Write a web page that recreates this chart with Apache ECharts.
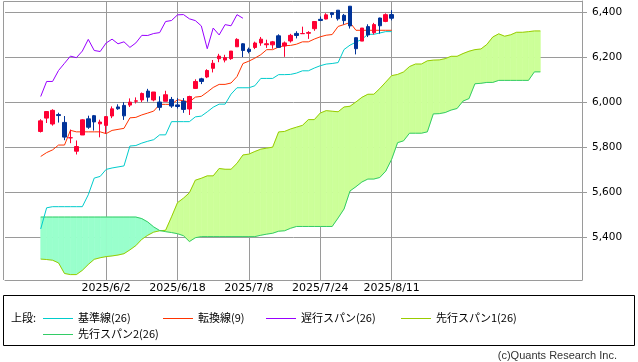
<!DOCTYPE html>
<html><head><meta charset="utf-8">
<script src="https://cdn.jsdelivr.net/npm/echarts@6/dist/echarts.min.js"></script>
<style>html,body{margin:0;padding:0;background:#fff}#c{width:638px;height:362px}</style>
</head><body><div id="c"></div>
<script>
// ---- data ----
const dates = ['2025/5/7','2025/5/8','2025/5/9','2025/5/12','2025/5/13','2025/5/14','2025/5/15','2025/5/16','2025/5/19','2025/5/20','2025/5/21','2025/5/22','2025/5/23','2025/5/27','2025/5/28','2025/5/29','2025/5/30','2025/6/2','2025/6/3','2025/6/4','2025/6/5','2025/6/6','2025/6/9','2025/6/10','2025/6/11','2025/6/12','2025/6/13','2025/6/16','2025/6/17','2025/6/18','2025/6/20','2025/6/23','2025/6/24','2025/6/25','2025/6/26','2025/6/27','2025/6/30','2025/7/1','2025/7/2','2025/7/3','2025/7/7','2025/7/8','2025/7/9','2025/7/10','2025/7/11','2025/7/14','2025/7/15','2025/7/16','2025/7/17','2025/7/18','2025/7/21','2025/7/22','2025/7/23','2025/7/24','2025/7/25','2025/7/28','2025/7/29','2025/7/30','2025/7/31','2025/8/1','2025/8/4','2025/8/5','2025/8/6','2025/8/7','2025/8/8','2025/8/11'];
const futureSlots = 32;
const xTickLabels = ['2025/6/2','2025/6/18','2025/7/8','2025/7/24','2025/8/11'];
const yTickValues = [5400, 5600, 5800, 6000, 6200, 6400];

const candleStart = 6; // candles begin at 2025/5/15
const open = [5869.8,5929.1,5902.9,5944.7,5910.0,5841.3,5781.9,5854.1,5925.9,5939.9,5903.7,5896.7,5938.6,5978.9,5985.7,5987.1,6004.6,6009.9,6049.4,6009.9,6000.6,6004.0,6012.2,5987.9,6004.0,5969.7,6061.3,6104.0,6112.2,6150.7,6193.4,6187.3,6193.7,6246.5,6259.8,6235.3,6243.4,6263.4,6255.7,6255.2,6295.3,6250.0,6272.5,6306.0,6304.7,6306.6,6326.9,6368.6,6370.0,6397.7,6409.3,6386.4,6427.0,6287.0,6271.7,6336.2,6309.3,6374.4,6359.4,6389.7];
const close = [5916.9,5958.4,5963.6,5940.5,5844.6,5842.0,5802.8,5921.5,5888.6,5912.2,5911.7,5935.9,5970.4,5970.8,5939.3,6000.4,6005.9,6038.8,6022.2,6045.3,5977.0,6033.1,5982.7,5980.9,5967.8,6025.2,6092.2,6092.2,6141.0,6173.1,6205.0,6198.0,6227.4,6279.4,6230.0,6225.5,6263.3,6280.5,6259.8,6268.6,6243.8,6263.7,6297.4,6296.8,6305.6,6309.6,6358.9,6363.4,6388.6,6389.8,6370.9,6362.9,6339.4,6238.0,6329.9,6299.2,6345.1,6340.0,6389.5,6373.5];
const low = [5865.2,5907.4,5895.7,5909.3,5830.9,5817.6,5767.4,5854.1,5881.4,5873.8,5843.7,5861.4,5929.0,5966.1,5921.2,5978.6,5994.2,6000.3,6002.3,6003.9,5963.2,6004.0,5974.8,5971.9,5952.6,5943.2,6059.5,6080.5,6107.2,6132.3,6178.0,6177.1,6188.3,6246.5,6201.0,6217.4,6236.2,6251.1,6241.5,6237.8,6241.6,6201.8,6265.2,6283.9,6303.8,6281.7,6317.5,6360.6,6368.5,6375.6,6363.1,6346.1,6327.6,6212.7,6271.7,6289.7,6301.2,6305.0,6355.9,6364.0];
const high = [5924.1,5958.6,5968.6,5953.1,5938.4,5878.1,5829.5,5924.3,5939.9,5943.1,5922.1,5937.4,5981.3,5990.5,5999.7,6016.9,6021.3,6043.0,6059.4,6045.4,6026.2,6050.8,6023.3,6018.2,6018.2,6028.8,6101.8,6108.5,6146.5,6187.7,6215.1,6210.8,6227.6,6284.6,6262.4,6242.7,6269.2,6290.2,6278.0,6272.5,6302.0,6270.0,6304.0,6315.6,6336.0,6316.1,6360.6,6381.3,6395.8,6401.1,6409.3,6392.6,6427.0,6287.5,6330.0,6346.6,6352.8,6376.0,6395.2,6409.3];

// 転換線(9), 基準線(26): from 2025/5/15
const tenkan = [5758.5,5775.8,5787.8,5809.3,5809.3,5874.8,5868.0,5868.0,5868.0,5868.0,5868.0,5860.2,5874.4,5879.0,5883.6,5930.3,5932.5,5943.4,5951.6,5960.4,5990.3,5990.3,5990.3,6011.3,6006.0,6001.3,6022.5,6025.9,6044.9,6065.5,6079.2,6079.2,6085.4,6113.9,6172.0,6182.6,6195.9,6211.3,6233.7,6233.7,6245.2,6251.5,6252.5,6258.0,6268.5,6268.5,6280.8,6291.0,6298.0,6301.0,6337.0,6345.5,6354.4,6319.9,6319.9,6319.9,6319.9,6319.9,6319.9,6319.9];
const kijun = [5436.0,5530.1,5535.1,5535.1,5535.1,5535.1,5535.1,5535.1,5588.1,5662.3,5669.8,5700.9,5707.3,5711.9,5716.5,5805.0,5807.2,5818.0,5826.2,5833.2,5854.7,5854.7,5913.4,5913.4,5913.4,5913.4,5934.6,5938.0,5957.0,5977.6,5991.3,5991.3,6035.7,6064.2,6064.2,6064.2,6073.0,6105.7,6105.7,6105.7,6122.6,6122.6,6123.6,6129.4,6139.6,6139.6,6151.9,6162.3,6169.5,6172.2,6176.3,6234.4,6253.8,6267.1,6279.7,6302.0,6302.0,6307.7,6314.0,6314.0];
// 遅行スパン(26): from 2025/5/15 to 2025/7/7
const chikou = [6025.2,6092.2,6092.2,6141.0,6173.1,6205.0,6198.0,6227.4,6279.4,6230.0,6225.5,6263.3,6280.5,6259.8,6268.6,6243.8,6263.7,6297.4,6296.8,6305.6,6309.6,6358.9,6363.4,6388.6,6389.8,6370.9,6362.9,6339.4,6238.0,6329.9,6299.2,6345.1,6340.0,6389.5,6373.5];
// 先行スパン1(26), 先行スパン2(26): from 2025/5/15, 25 slots past the last candle
const span1 = [5302,5300,5297,5285,5238,5233,5233,5252,5278,5301,5308,5313,5316,5320,5326,5343,5362,5390,5408,5422,5428,5430,5490,5553,5573,
  5597,5653,5661.5,5672.2,5672.2,5705,5701.6,5701.6,5728,5765.2,5768.9,5780.6,5790.9,5795.5,5800,5867.7,5869.9,5880.7,5888.9,5896.8,5922.5,5922.5,5951.9,5962.4,5959.7,5957.4,5978.6,5982,6001,6021.6,6035.3,6035.3,6060.6,6089.1,6118.1,
  6123.4,6134.5,6158.5,6169.7,6169.7,6183.9,6187.1,6188.1,6193.7,6204.1,6204.1,6216.4,6226.7,6233.8,6236.6,6256.7,6290,6304.1,6293.5,6299.8,6311,6311,6313.8,6317,6317];
const span2 = [5489,5489,5489,5489,5489,5489,5489,5489,5489,5489,5489,5489,5489,5489,5489,5489,5489,5482,5467,5445,5429,5424,5420,5415,5406,
  5380,5397,5402,5402,5402,5402,5402,5402,5402,5402,5402,5402,5408,5413,5417,5426,5428,5439,5447,5447,5447,5447,5447,5447,5447,5485,5525,5605,5624,5645,5658,5658,5665,5693,5746,
  5820,5828,5862,5862,5862,5868,5948,5949,5954,5965,5972,6005,6016,6082,6084,6088,6088,6097,6097,6097,6097,6097,6097,6135,6135];

// ---- build ----
const categories = dates.concat(Array.from({length: futureSlots}, (_, k) => '+' + (k + 1)));
const pad = (arr, n) => Array(n).fill('-').concat(arr);
const candleData = Array(candleStart).fill(['-','-','-','-']).concat(open.map((o, k) => [o, close[k], low[k], high[k]]));
const cloudData = [];
for (let k = 0; k < span1.length - 1; k++) {
  cloudData.push([candleStart + k, span1[k], span2[k], span1[k + 1], span2[k + 1]]);
}
const UPC = '#ccff99', DNC = '#99ffcc';
function cloudItem(params, api) {
  const i = api.value(0);
  const a1 = api.coord([i, api.value(1)]), a2 = api.coord([i, api.value(2)]);
  const b1 = api.coord([i + 1, api.value(3)]), b2 = api.coord([i + 1, api.value(4)]);
  const d0 = api.value(1) - api.value(2), d1 = api.value(3) - api.value(4);
  const polys = [];
  if (d0 * d1 >= 0) {
    polys.push({pts: [a1, b1, b2, a2], c: (d0 + d1 >= 0) ? UPC : DNC});
  } else {
    const t = d0 / (d0 - d1);
    const m = [a1[0] + (b1[0] - a1[0]) * t, a1[1] + (b1[1] - a1[1]) * t];
    polys.push({pts: [a1, m, a2], c: d0 > 0 ? UPC : DNC});
    polys.push({pts: [m, b1, b2], c: d1 > 0 ? UPC : DNC});
  }
  return {type: 'group', children: polys.map(p => ({type: 'polygon', shape: {points: p.pts}, style: {fill: p.c, stroke: p.c, lineWidth: 0.6}}))};
}
const lineS = (name, data, color, z) => ({name, type: 'line', data, symbol: 'none', showSymbol: false, silent: true, z,
  lineStyle: {color, width: 1}, itemStyle: {color}, connectNulls: false});

const GRID_COL = '#9a9a9a';
const chart = echarts.init(document.getElementById('c'), null, {renderer: 'canvas'});
const legendItems = [
  {name: '基準線(26)', color: '#00cccc', x: 43, y: 318},
  {name: '転換線(9)', color: '#ff3300', x: 163, y: 318},
  {name: '遅行スパン(26)', color: '#9900ff', x: 266, y: 318},
  {name: '先行スパン1(26)', color: '#99cc00', x: 401, y: 318},
  {name: '先行スパン2(26)', color: '#33cc66', x: 43, y: 334}
];
const jpFont = '11px "Noto Sans CJK JP", sans-serif';
const graphics = [
  {type: 'polyline', shape: {points: [[3.5, 280], [3.5, 1.5], [582, 1.5]]}, style: {stroke: GRID_COL, lineWidth: 1, fill: null}, silent: true},
  {type: 'rect', shape: {x: 3.5, y: 295.5, width: 631, height: 50}, style: {fill: '#fff', stroke: '#000', lineWidth: 1}, silent: true},
  {type: 'text', x: 11, y: 318, style: {text: '上段:', font: jpFont, fill: '#000', verticalAlign: 'middle', align: 'left'}, silent: true},
  {type: 'text', x: 617, y: 356, style: {text: '(c)Quants Research Inc.', font: '11px "Liberation Sans", Arial, sans-serif', fill: '#333', verticalAlign: 'middle', align: 'right'}, silent: true}
];
legendItems.forEach(it => {
  graphics.push({type: 'line', shape: {x1: it.x, y1: it.y + 0.5, x2: it.x + 30, y2: it.y + 0.5}, style: {stroke: it.color, lineWidth: 1}, silent: true});
  graphics.push({type: 'text', x: it.x + 35, y: it.y, style: {text: it.name, font: jpFont, fill: '#000', verticalAlign: 'middle', align: 'left'}, silent: true});
});

chart.setOption({
  animation: false,
  backgroundColor: '#fff',
  grid: {left: 5, right: 56, top: 1, bottom: 82, show: false},
  xAxis: {
    type: 'category', data: categories, boundaryGap: false,
    axisLine: {show: true, lineStyle: {color: GRID_COL, width: 1}},
    axisTick: {show: false},
    axisLabel: {interval: (i, v) => xTickLabels.includes(v), color: '#000', fontSize: 11, fontFamily: 'DejaVu Sans', margin: 3},
    splitLine: {show: true, interval: (i, v) => xTickLabels.includes(v), lineStyle: {color: GRID_COL, width: 1}}
  },
  yAxis: {
    type: 'value', position: 'right', min: 5208.9, max: 6450.2, scale: true,
    axisLine: {show: true, lineStyle: {color: GRID_COL, width: 1}},
    axisTick: {show: true, length: 5, customValues: yTickValues, lineStyle: {color: GRID_COL}},
    axisLabel: {customValues: yTickValues, formatter: v => Number(v).toLocaleString('en-US'), color: '#000', fontSize: 10.5, fontFamily: 'DejaVu Sans', margin: 10},
    splitLine: {show: true, lineStyle: {color: GRID_COL, width: 1}}
  },
  graphic: graphics,
  series: [
    {type: 'custom', name: 'cloud', data: cloudData, renderItem: cloudItem, encode: {x: 0, y: [1, 2, 3, 4]}, silent: true, z: 1},
    lineS('先行スパン1(26)', pad(span1, candleStart), '#99cc00', 2),
    lineS('先行スパン2(26)', pad(span2, candleStart), '#33cc66', 2),
    lineS('基準線(26)', pad(kijun, candleStart), '#00cccc', 3),
    lineS('転換線(9)', pad(tenkan, candleStart), '#ff3300', 3),
    lineS('遅行スパン(26)', pad(chikou, candleStart), '#9900ff', 3),
    {type: 'candlestick', name: 'price', data: candleData, barWidth: 4, silent: true, z: 4,
      itemStyle: {color: '#ff0033', color0: '#003399', borderColor: '#ff0033', borderColor0: '#003399', borderWidth: 1}}
  ]
});
</script></body></html>
